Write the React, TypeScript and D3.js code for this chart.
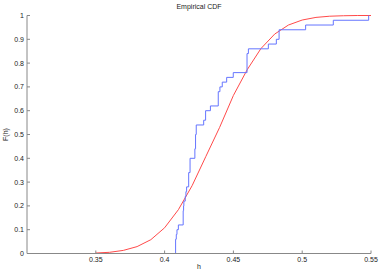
import React from 'react';
import * as d3 from 'd3';

const samples = [
  0.408, 0.408, 0.408, 0.4085, 0.409, 0.410,
  0.4135, 0.4135, 0.4135, 0.4138, 0.414, 0.415, 0.4155, 0.416,
  0.4175, 0.4175, 0.4175, 0.4185, 0.4185, 0.4185,
  0.422, 0.422, 0.4225, 0.4225, 0.4225, 0.423, 0.423,
  0.4284, 0.4298, 0.4298, 0.4333,
  0.439, 0.439, 0.439, 0.4402, 0.4419, 0.4451, 0.4499,
  0.4599, 0.4599, 0.4599, 0.4599, 0.4609,
  0.4754, 0.4812, 0.4832, 0.4832, 0.5025, 0.5226, 0.5483,
];

// fitted curve, read at 0.01 steps
const fitH = [0.35, 0.36, 0.37, 0.38, 0.39, 0.40, 0.41, 0.42, 0.43, 0.44, 0.45,
  0.46, 0.47, 0.48, 0.49, 0.50, 0.51, 0.52, 0.53, 0.54, 0.55];
const fitF = [0.002, 0.005, 0.013, 0.029, 0.058, 0.108, 0.184, 0.285, 0.408, 0.53, 0.664,
  0.772, 0.861, 0.922, 0.96, 0.981, 0.992, 0.997, 0.999, 1.0, 1.0];

const xTicks = [0.35, 0.4, 0.45, 0.5, 0.55];
const yTicks = [0, 0.1, 0.2, 0.3, 0.4, 0.5, 0.6, 0.7, 0.8, 0.9, 1];

const W = 382, H = 273;
const m = { l: 27, r: 11, t: 15.5, b: 19.5 };

export default function App() {
  const x = d3.scaleLinear().domain([0.3, 0.55]).range([m.l, W - m.r]);
  const y = d3.scaleLinear().domain([0, 1]).range([H - m.b, m.t]);
  const n = samples.length;
  const sorted = [...samples].sort((a, b) => a - b);
  const pts: [number, number][] = [[sorted[0], 0]];
  sorted.forEach((v, i) => {
    const F = (i + 1) / n;
    if (i + 1 < n && sorted[i + 1] === v) return;
    pts.push([v, F]);
  });
  const stair = d3.line<[number, number]>().x(d => x(d[0])).y(d => y(d[1])).curve(d3.curveStepAfter);
  const fit = d3.line<number>().x((_, i) => x(fitH[i])).y(d => y(d));
  const font = '"Liberation Sans", Arial, sans-serif';
  const x0 = m.l, y0 = H - m.b;
  return (
    <svg width={W} height={H} style={{ position: 'absolute', left: 0, top: 0, background: '#fff' }} fontFamily={font}>
      <text x={(x0 + W - m.r) / 2} y={9} fontSize={7} textAnchor="middle" fill="#222">Empirical CDF</text>
      <path d={fit(fitF) || ''} fill="none" stroke="#ff4a4a" strokeWidth={1} />
      <path d={stair(pts) || ''} fill="none" stroke="#6575ff" strokeWidth={1} />
      <line x1={x0} x2={x0} y1={m.t} y2={y0} stroke="#888" />
      <line x1={x0} x2={W - m.r} y1={y0} y2={y0} stroke="#888" />
      {yTicks.map(t => (
        <g key={'y' + t}>
          <line x1={x0} x2={x0 + 3} y1={y(t)} y2={y(t)} stroke="#888" />
          <text x={x0 - 3} y={y(t) + 2.5} fontSize={7} textAnchor="end" fill="#222">{String(t)}</text>
        </g>
      ))}
      {xTicks.map(t => (
        <g key={'x' + t}>
          <line x1={x(t)} x2={x(t)} y1={y0} y2={y0 - 3} stroke="#888" />
          <text x={x(t)} y={y0 + 8} fontSize={7} textAnchor="middle" fill="#222">{String(t)}</text>
        </g>
      ))}
      <text x={(x0 + W - m.r) / 2} y={269} fontSize={7} textAnchor="middle" fill="#222">h</text>
      <text transform={`translate(8,${(m.t + y0) / 2}) rotate(-90)`} fontSize={7} textAnchor="middle" fill="#222">F(h)</text>
    </svg>
  );
}
